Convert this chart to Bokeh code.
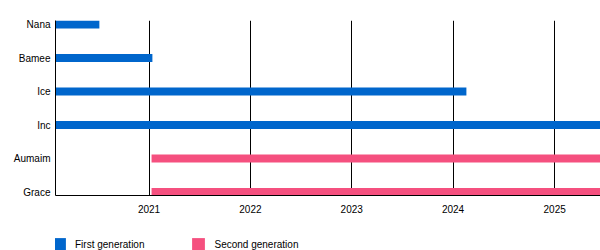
from datetime import datetime
from bokeh.plotting import figure
from bokeh.layouts import column
from bokeh.models import Range1d, FixedTicker, DatetimeTickFormatter, Legend, LegendItem, ColumnDataSource
from bokeh.embed import file_html
from bokeh.resources import INLINE

# Data
members = ["Nana", "Bamee", "Ice", "Inc", "Aumaim", "Grace"]
starts = ["2020-01-30", "2020-01-30", "2020-01-30", "2020-01-30", "2021-01-10", "2021-01-10"]
ends = ["2020-07-06", "2021-01-13", "2024-02-18", "2025-06-15", "2025-06-15", "2025-06-15"]
groups = ["First generation", "First generation", "First generation", "First generation",
          "Second generation", "Second generation"]
group_names = ["First generation", "Second generation"]
group_colors = ["#0066cc", "#f5507f"]
tick_years = [2021, 2022, 2023, 2024, 2025]
range_start = "2020-01-30"
range_end = "2025-06-15"

def d(s):
    return datetime.strptime(s, "%Y-%m-%d")

n = len(members)
ypos = [n - 1 - i for i in range(n)]

p = figure(width=600, height=232, x_axis_type="datetime",
           x_range=Range1d(d(range_start), d(range_end)),
           y_range=Range1d(-0.104, 5.12),
           output_backend="svg", toolbar_location=None,
           min_border_left=55, min_border_right=0, min_border_top=20, min_border_bottom=37)
p.outline_line_color = None
p.background_fill_color = "white"

for g, c in zip(group_names, group_colors):
    idx = [i for i in range(n) if groups[i] == g]
    src = ColumnDataSource(dict(
        y=[ypos[i] for i in idx],
        left=[d(starts[i]) for i in idx],
        right=[d(ends[i]) for i in idx],
    ))
    p.hbar(y="y", left="left", right="right", height=0.24, source=src,
           fill_color=c, line_color=None)

# x axis
xt = [datetime(y, 1, 1).timestamp() * 1000 for y in tick_years]
p.xaxis.ticker = FixedTicker(ticks=xt)
fmt = "%Y"
p.xaxis.formatter = DatetimeTickFormatter(years=fmt, months=fmt, days=fmt, hours=fmt,
                                          minutes=fmt, seconds=fmt, milliseconds=fmt,
                                          microseconds=fmt, hourmin=fmt, minsec=fmt)
p.xgrid.ticker = FixedTicker(ticks=xt)
p.xgrid.grid_line_color = "black"
p.xgrid.grid_line_width = 1
p.xgrid.grid_line_alpha = 1
p.ygrid.grid_line_color = None

for ax in (p.xaxis, p.yaxis):
    ax.axis_line_color = "black"
    ax.axis_line_width = 1
    ax.major_tick_line_color = None
    ax.minor_tick_line_color = None
    ax.major_tick_out = 0
    ax.major_tick_in = 0
    ax.minor_tick_out = 0
    ax.major_label_text_font = "Liberation Sans"
    ax.major_label_text_font_size = "10px"
    ax.major_label_text_color = "black"

p.xaxis.major_label_standoff = 9
p.yaxis.major_label_standoff = 5
p.yaxis.ticker = FixedTicker(ticks=ypos)
p.yaxis.major_label_overrides = {ypos[i]: members[i] for i in range(n)}

# Legend strip (frame is aligned with the main frame, left edge at x=55)
pl = figure(width=600, height=18, x_range=Range1d(0, 1), y_range=Range1d(0, 1),
            x_axis_location=None, y_axis_location=None,
            output_backend="svg", toolbar_location=None,
            min_border_left=0, min_border_right=0, min_border_top=0, min_border_bottom=0)
pl.outline_line_color = None
pl.xgrid.grid_line_color = None
pl.ygrid.grid_line_color = None
items = []
for g, c in zip(group_names, group_colors):
    # zero-width placeholder bar: only its legend swatch is seen
    r = pl.hbar(y=[0.5], left=[0], right=[0], height=0.5, fill_color=c, line_color=None)
    items.append(LegendItem(label=g, renderers=[r]))

legend = Legend(items=items, orientation="horizontal", location=(-4, -2),
                glyph_width=16, glyph_height=16, label_standoff=8, spacing=46,
                padding=0, margin=0, border_line_color=None, background_fill_alpha=0,
                label_text_font="Liberation Sans", label_text_font_size="10px",
                label_height=16, label_text_color="black")
pl.add_layout(legend, "center")

open("out.html", "w").write(file_html(column(p, pl, spacing=0), INLINE))
